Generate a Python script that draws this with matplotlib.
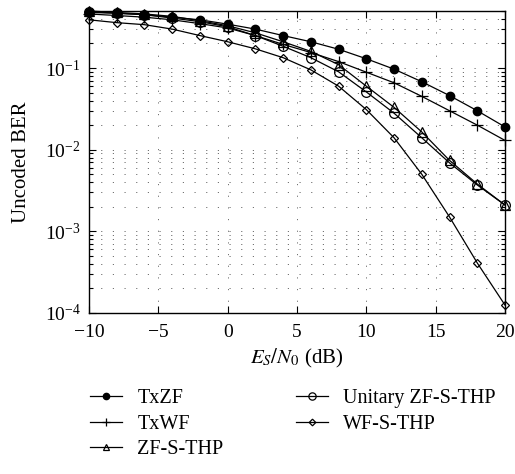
import matplotlib
matplotlib.use("Agg")
import matplotlib.pyplot as plt
from matplotlib.ticker import LogLocator, NullFormatter, FixedLocator

plt.rcParams['font.family'] = ['Liberation Serif', 'DejaVu Serif']
plt.rcParams['mathtext.fontset'] = 'stix'

snr = [-10, -8, -6, -4, -2, 0, 2, 4, 6, 8, 10, 12, 14, 16, 18, 20]
txzf = [0.48, 0.47, 0.45, 0.42, 0.39, 0.345, 0.30, 0.25, 0.21, 0.17, 0.13, 0.097, 0.068, 0.046, 0.030, 0.019]
txwf = [0.46, 0.44, 0.42, 0.39, 0.35, 0.31, 0.25, 0.195, 0.155, 0.12, 0.089, 0.066, 0.045, 0.030, 0.020, 0.013]
zfsthp = [0.50, 0.48, 0.46, 0.43, 0.38, 0.33, 0.27, 0.21, 0.16, 0.11, 0.060, 0.033, 0.0165, 0.0074, 0.0038, 0.0021]
unitary = [0.49, 0.47, 0.45, 0.41, 0.37, 0.32, 0.25, 0.185, 0.134, 0.090, 0.051, 0.028, 0.014, 0.0069, 0.0037, 0.0021]
wfsthp = [0.39, 0.36, 0.34, 0.30, 0.25, 0.21, 0.172, 0.134, 0.095, 0.060, 0.031, 0.014, 0.0050, 0.0015, 0.00041, 0.000125]

labels = ["TxZF", "TxWF", "ZF-S-THP", "Unitary ZF-S-THP", "WF-S-THP"]
xticks = [-10, -5, 0, 5, 10, 15, 20]

fig = plt.figure(figsize=(5.15, 4.74), dpi=100)
ax = fig.add_axes([89/515, 1-313/474, (505-89)/515, (313-11)/474])

lw = 0.9
ax.plot(snr, txzf, color='k', lw=lw, marker='o', ms=6, mfc='k', mec='k', label=labels[0], clip_on=False, zorder=3)
ax.plot(snr, txwf, color='k', lw=lw, marker='+', ms=8, mew=0.9, label=labels[1], clip_on=False, zorder=3)
ax.plot(snr, zfsthp, color='k', lw=lw, marker='^', ms=6.5, mfc='none', mec='k', mew=0.9, label=labels[2], clip_on=False, zorder=3)
ax.plot(snr, unitary, color='k', lw=lw, marker='o', ms=7, mfc='none', mec='k', mew=0.9, label=labels[3], clip_on=False, zorder=3)
ax.plot(snr, wfsthp, color='k', lw=lw, marker='D', ms=4.5, mfc='none', mec='k', mew=0.9, label=labels[4], clip_on=False, zorder=3)

ax.set_yscale('log')
ax.set_xlim(-10, 20)
ax.set_ylim(1e-4, 0.5)
ax.xaxis.set_major_locator(FixedLocator(xticks))
ax.yaxis.set_major_locator(LogLocator(base=10, numticks=10))
ax.yaxis.set_minor_locator(LogLocator(base=10, subs=range(2, 10), numticks=20))
ax.yaxis.set_minor_formatter(NullFormatter())

ax.tick_params(which='both', direction='in', top=True, right=True, labelsize=14, width=0.8, color='k')
ax.tick_params(which='major', length=5)
ax.tick_params(which='minor', length=3)
ax.tick_params(axis='x', which='major', pad=8)
ax.tick_params(axis='y', which='major', pad=6)

dots = (0, (1.4, 12.6))
ax.grid(True, which='major', axis='both', color='0.35', lw=0.6, linestyle=dots)
ax.grid(True, which='minor', axis='y', color='0.35', lw=0.6, linestyle=dots)
for s in ax.spines.values():
    s.set_linewidth(1.0)

ax.set_xlabel(r'$E_S/N_0$ (dB)', fontsize=15, labelpad=4)
ax.set_ylabel('Uncoded BER', fontsize=15, labelpad=10)

handles, labs = ax.get_legend_handles_labels()
fig.legend(handles, labs, ncol=2, loc='upper left', bbox_to_anchor=(72/515, 1-371/474),
           frameon=False, fontsize=14.5, handlelength=1.6, handletextpad=0.75,
           columnspacing=3.6, labelspacing=0.32, markerscale=0.75)

fig.savefig('out.png', dpi=100)
